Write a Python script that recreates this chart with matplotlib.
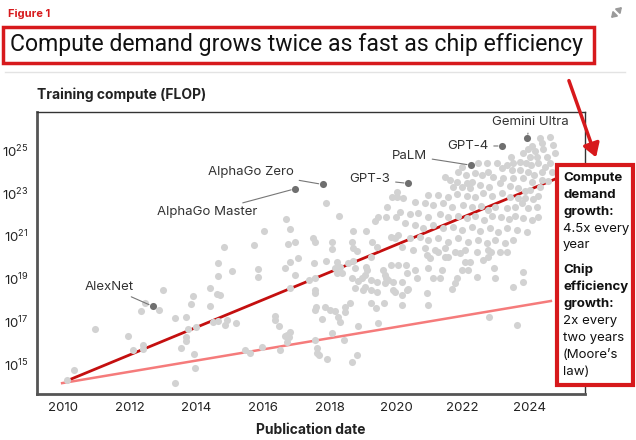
import matplotlib
matplotlib.use('Agg')
import matplotlib.pyplot as plt
from matplotlib.patches import Rectangle, FancyArrowPatch
from matplotlib.lines import Line2D
from matplotlib.ticker import FixedLocator, NullLocator, LogFormatterSciNotation

plt.rcParams['font.family'] = ['Inter', 'DejaVu Sans']

# grey dots: publication year and log10 of training compute
gray_year = [
    2010.32, 2010.12, 2010.95, 2011.94, 2012.09, 2012.40, 2012.40, 2012.35, 2012.47, 2012.89,
    2012.99, 2013.37, 2013.69, 2013.54, 2013.74, 2013.69, 2013.69, 2013.92, 2013.95, 2013.37,
    2013.84, 2013.89, 2014.00, 2014.42, 2014.41, 2014.62, 2014.71, 2014.65, 2014.66, 2014.83,
    2014.50, 2014.65, 2014.87, 2015.07, 2015.86, 2015.86, 2014.92, 2015.20, 2015.47, 2015.62,
    2015.97, 2016.37, 2016.37, 2016.47, 2016.72, 2016.82, 2016.72, 2016.52, 2016.67, 2016.82,
    2016.97, 2017.52, 2017.57, 2017.37, 2017.57, 2017.57, 2017.62, 2017.62,
    2016.70, 2016.82, 2016.04, 2015.72, 2016.74, 2016.95, 2017.49, 2017.57, 2017.05,
    2017.90, 2018.29, 2016.82, 2017.89, 2018.22, 2018.17, 2018.39, 2018.57, 2018.72, 2018.77,
    2018.67, 2018.72, 2019.09, 2019.37, 2019.45, 2019.69, 2019.99, 2019.72, 2019.87, 2020.02,
    2019.85, 2019.97, 2018.67, 2018.72, 2018.82, 2019.29, 2019.42, 2019.24, 2019.09, 2019.12,
    2018.99, 2019.25, 2019.42, 2019.62, 2019.69, 2019.85, 2019.92, 2018.77, 2019.02, 2019.25,
    2019.42, 2019.92, 2019.25, 2019.40, 2019.65, 2019.47, 2017.55, 2017.59, 2017.87, 2018.02,
    2018.17, 2018.47, 2018.62, 2018.47, 2017.77, 2018.27, 2018.32, 2016.77, 2016.65, 2018.07,
    2018.44, 2017.69, 2017.92, 2018.84, 2018.69, 2018.07, 2018.07,
    2018.87, 2020.17, 2020.97, 2022.80, 2023.62, 2023.52, 2023.80, 2023.82, 2017.57, 2018.22,
    2018.32, 2019.07, 2019.67, 2019.97, 2020.17, 2020.32, 2018.87, 2019.07, 2019.67, 2019.77,
    2020.07, 2020.29, 2020.32, 2020.57, 2020.62, 2020.92, 2021.02, 2020.97, 2021.12, 2021.37,
    2021.32, 2021.47, 2021.57, 2021.27, 2021.92, 2022.07, 2022.22, 2021.97, 2022.17, 2021.82,
    2021.77, 2021.67, 2022.42, 2022.62, 2022.77, 2022.85, 2022.94, 2022.97, 2023.32, 2020.37,
    2020.17, 2020.94,
    2024.32, 2024.62, 2024.37, 2024.07, 2023.95, 2024.17, 2024.42, 2024.72, 2024.77, 2024.52,
    2024.22, 2024.02, 2023.82, 2023.45, 2023.52, 2023.72, 2023.90, 2024.05, 2024.26, 2024.47,
    2024.62, 2024.68, 2024.38, 2024.15, 2023.95, 2023.72, 2023.47, 2023.32, 2023.17, 2023.02,
    2022.72, 2022.47, 2021.97, 2021.87, 2022.10, 2022.37, 2022.57, 2022.75, 2022.92, 2023.22,
    2023.52, 2023.82, 2024.07, 2024.38, 2024.55, 2021.62, 2021.82, 2022.12, 2022.29, 2021.47,
    2021.72, 2021.97, 2022.22, 2022.52, 2022.80, 2023.12, 2023.42, 2023.67, 2023.87, 2024.02,
    2024.32, 2020.97, 2021.27, 2021.57, 2021.82, 2022.12, 2022.37, 2022.62, 2022.87, 2023.18,
    2023.42, 2023.65, 2023.87, 2024.12, 2024.27, 2020.02, 2020.22, 2020.57, 2020.87, 2021.12,
    2021.42, 2021.67, 2022.02, 2022.29, 2022.55, 2022.77, 2022.97, 2023.32, 2023.57, 2023.77,
    2023.95, 2024.22, 2020.12, 2020.42, 2020.67, 2020.97, 2021.32, 2021.57, 2021.87, 2022.12,
    2022.37, 2022.65, 2022.89, 2023.15, 2023.39, 2023.57, 2023.82, 2024.07, 2024.27, 2020.27,
    2020.57, 2020.82, 2021.12, 2021.42, 2021.72, 2021.97, 2022.27, 2022.52, 2022.82, 2023.07,
    2023.32, 2023.62, 2023.92, 2020.07, 2020.42, 2020.72, 2020.97, 2021.27, 2021.57, 2021.87,
    2022.17, 2022.47, 2022.72, 2022.97, 2023.27, 2023.52, 2020.17, 2020.52, 2020.87, 2021.17,
    2021.47, 2021.77, 2022.07, 2022.42, 2022.77, 2023.12,
]
gray_exp = [
    14.72, 14.25, 16.64, 16.31, 15.66, 15.89, 15.70, 17.48, 17.86, 17.53,
    18.46, 17.17, 17.20, 15.75, 16.64, 16.28, 16.08, 15.47, 14.81, 14.11,
    17.81, 18.18, 16.73, 18.57, 17.73, 18.28, 18.23, 19.12, 19.73, 20.49,
    16.98, 17.03, 16.83, 19.37, 19.45, 19.07, 17.06, 16.92, 15.66, 15.53,
    15.78, 17.25, 17.06, 16.79, 16.36, 16.51, 16.04, 15.66, 19.48, 19.79,
    19.17, 19.71, 18.31, 18.93, 17.53, 16.12, 15.73, 15.50,
    21.79, 21.31, 21.24, 20.57, 20.62, 20.70, 20.91, 20.72, 19.95,
    22.52, 21.93, 18.54, 19.83, 19.79, 19.48, 19.27, 19.71, 19.83, 19.48,
    19.01, 21.23, 21.23, 21.71, 21.90, 21.90, 21.90, 22.36, 22.83, 22.83,
    20.96, 20.88, 20.70, 20.42, 20.29, 20.72, 20.49, 19.99, 19.55, 19.40,
    19.01, 18.93, 18.85, 19.40, 19.01, 19.63, 18.85, 18.54, 18.46, 18.46,
    18.38, 18.46, 17.84, 17.61, 17.84, 16.90, 18.46, 17.68, 17.68, 17.53,
    17.49, 17.68, 17.84, 17.45, 17.11, 17.21, 16.98, 16.28, 16.31, 16.44,
    16.12, 15.42, 15.22, 15.42, 15.11, 20.38, 20.72,
    16.78, 17.76, 17.76, 17.19, 16.83, 18.62, 18.85, 19.32, 19.01, 19.25,
    19.56, 18.62, 18.78, 18.38, 18.85, 18.46, 18.90, 19.17, 19.17, 18.93,
    19.64, 19.64, 19.25, 19.40, 19.01, 20.10, 19.95, 19.48, 19.01, 19.40,
    19.01, 20.02, 20.02, 20.26, 20.18, 19.79, 19.79, 19.40, 19.40, 19.01,
    18.81, 18.50, 19.09, 19.87, 20.00, 20.26, 19.48, 19.01, 20.26, 18.50,
    18.23, 18.34,
    25.57, 25.64, 25.33, 25.20, 25.05, 24.98, 25.05, 25.25, 24.86, 24.70,
    24.70, 24.70, 24.86, 24.70, 24.42, 24.47, 24.39, 24.31, 24.39, 24.23,
    24.39, 24.00, 24.00, 23.85, 24.00, 24.08, 24.08, 24.31, 24.16, 24.39,
    24.39, 24.39, 24.23, 24.00, 23.85, 23.93, 23.85, 23.96, 23.77, 23.69,
    23.69, 23.69, 23.53, 23.61, 23.57, 23.61, 23.53, 23.49, 23.53, 23.77,
    23.28, 23.28, 23.23, 23.38, 23.28, 23.49, 23.34, 23.23, 23.10, 23.15,
    23.30, 22.91, 22.91, 22.80, 22.96, 22.86, 22.80, 22.99, 22.86, 22.99,
    22.80, 22.76, 22.76, 22.71, 22.86, 23.07, 22.76, 22.60, 22.52, 22.44,
    22.52, 22.36, 22.44, 22.34, 22.40, 22.21, 22.36, 22.29, 22.36, 22.52,
    22.29, 22.36, 22.13, 22.02, 22.05, 21.89, 22.02, 21.89, 21.93, 21.82,
    21.93, 21.74, 21.93, 21.87, 21.78, 21.93, 21.82, 21.74, 21.89, 21.59,
    21.51, 21.36, 21.51, 21.36, 21.43, 21.28, 21.40, 21.24, 21.36, 21.20,
    21.36, 21.28, 21.20, 21.04, 20.88, 20.96, 20.81, 20.88, 20.72, 20.88,
    20.72, 20.81, 20.65, 20.81, 20.68, 20.81, 20.49, 20.34, 20.42, 20.34,
    20.42, 20.26, 20.34, 20.26, 20.34, 20.26,
]

# named models
model_names = ['AlexNet', 'AlphaGo Master', 'AlphaGo Zero', 'GPT-3', 'PaLM', 'GPT-4', 'Gemini Ultra']
model_year = [2012.7, 2016.97, 2017.8, 2020.36, 2022.25, 2023.18, 2023.93]
model_exp = [17.7, 23.2, 23.4, 23.45, 24.3, 25.2, 25.56]
label_offsets = [(-14, 14), (-27, -17), (-21, 9), (-13, 3), (-32, 7), (-10, 0), (2, 12)]

# trend lines (start, end)
demand_year = [2010.17, 2024.86]
demand_exp = [14.25, 23.71]
chip_year = [2009.94, 2024.68]
chip_exp = [14.1, 17.96]

x_ticks = [2010, 2012, 2014, 2016, 2018, 2020, 2022, 2024]
y_ticks = [15, 17, 19, 21, 23, 25]

RED = '#d7191c'


def pw(exps):
    return [10.0 ** e for e in exps]


def fx(px):
    return px / 636


def fy(py):
    return 1 - py / 440


fig = plt.figure(figsize=(6.36, 4.4), dpi=100)
ax = fig.add_axes([0.058, 0.1045, 0.862, 0.6405])

ax.plot(demand_year, pw(demand_exp), color='#c40f0f', lw=2, zorder=2, solid_capstyle='butt')
ax.plot(chip_year, pw(chip_exp), color='#f57b7b', lw=1.8, zorder=2, solid_capstyle='butt')
ax.scatter(gray_year, pw(gray_exp), s=26, color='#d2d2d2', lw=0, zorder=3)
ax.scatter(model_year, pw(model_exp), s=26, color='#6f6f6f', lw=0, zorder=4)

for name, yr, e, off in zip(model_names, model_year, model_exp, label_offsets):
    ha = 'center' if name == 'Gemini Ultra' else 'right'
    ax.annotate(name, (yr, 10.0 ** e), xytext=off, textcoords='offset points',
                ha=ha, va='center', fontsize=9.5, color='#333333', zorder=5,
                arrowprops=dict(arrowstyle='-', color='#777777', lw=0.8,
                                shrinkA=2, shrinkB=3))

ax.set_yscale('log')
ax.set_xlim(2009.22, 2025.67)
ax.set_ylim(10.0 ** 13.6, 10.0 ** 26.78)
ax.xaxis.set_major_locator(FixedLocator(x_ticks))
ax.yaxis.set_major_locator(FixedLocator(pw(y_ticks)))
ax.yaxis.set_major_formatter(LogFormatterSciNotation())
ax.yaxis.set_minor_locator(NullLocator())
ax.tick_params(length=0, labelsize=9.5, colors='#222222', pad=6)
for side in ['left', 'bottom']:
    ax.spines[side].set_linewidth(2)
    ax.spines[side].set_color('#555555')
for side in ['top', 'right']:
    ax.spines[side].set_linewidth(1)
    ax.spines[side].set_color('#333333')

ax.set_xlabel('Publication date', fontsize=10, fontweight='bold', color='#222222', labelpad=6)
fig.text(fx(37), fy(95), 'Training compute (FLOP)', fontsize=10, fontweight='bold',
         color='#222222', va='center')

# header
fig.text(fx(8), fy(14), 'Figure 1', fontsize=8, fontweight='bold', color=RED, va='center')
# expand icon: two small diagonal arrows
for tail, head in [((617, 12), (624, 5)), ((616, 13), (609, 20))]:
    fig.add_artist(FancyArrowPatch((fx(tail[0]), fy(tail[1])), (fx(head[0]), fy(head[1])),
                                   transform=fig.transFigure, color='#9a9a9a', lw=1.3,
                                   arrowstyle='-|>,head_length=3,head_width=2'))
fig.add_artist(Rectangle((fx(3), fy(63)), 591 / 636, 36 / 440, transform=fig.transFigure,
                         fill=False, ec=RED, lw=2.5))
fig.text(fx(10), fy(45), 'Compute demand grows twice as fast as chip efficiency',
         fontsize=16.6, color='#111111', va='center', family=['Roboto', 'DejaVu Sans'])
fig.add_artist(Line2D([fx(5), fx(625)], [fy(72), fy(72)], transform=fig.transFigure,
                      color='#e3e3e3', lw=1))

# right side note
fig.add_artist(Rectangle((fx(557), fy(385)), 76 / 636, 220 / 440, transform=fig.transFigure,
                         fc='white', ec=RED, lw=3, zorder=5))
note_lines = [('Compute', True), ('demand', True), ('growth:', True), ('4.5x every', False), ('year', False),
              ('', False), ('Chip', True), ('efficiency', True), ('growth:', True), ('2x every', False),
              ('two years', False), ('(Moore\u2019s', False), ('law)', False)]
line_y = [178, 195, 212, 229, 245, 0, 270, 287, 304, 321, 338, 355, 372]
for (txt, bold), yy in zip(note_lines, line_y):
    if txt:
        fig.text(fx(563), fy(yy), txt, fontsize=9.5, fontweight='bold' if bold else 'normal',
                 color='#111111', va='center', zorder=6)

fig.add_artist(FancyArrowPatch(
    (fx(568), fy(78)), (fx(597), fy(160)), transform=fig.transFigure,
    arrowstyle='-|>,head_length=8,head_width=5', color=RED, lw=2.5, zorder=6))

fig.savefig('out.png', dpi=100)
